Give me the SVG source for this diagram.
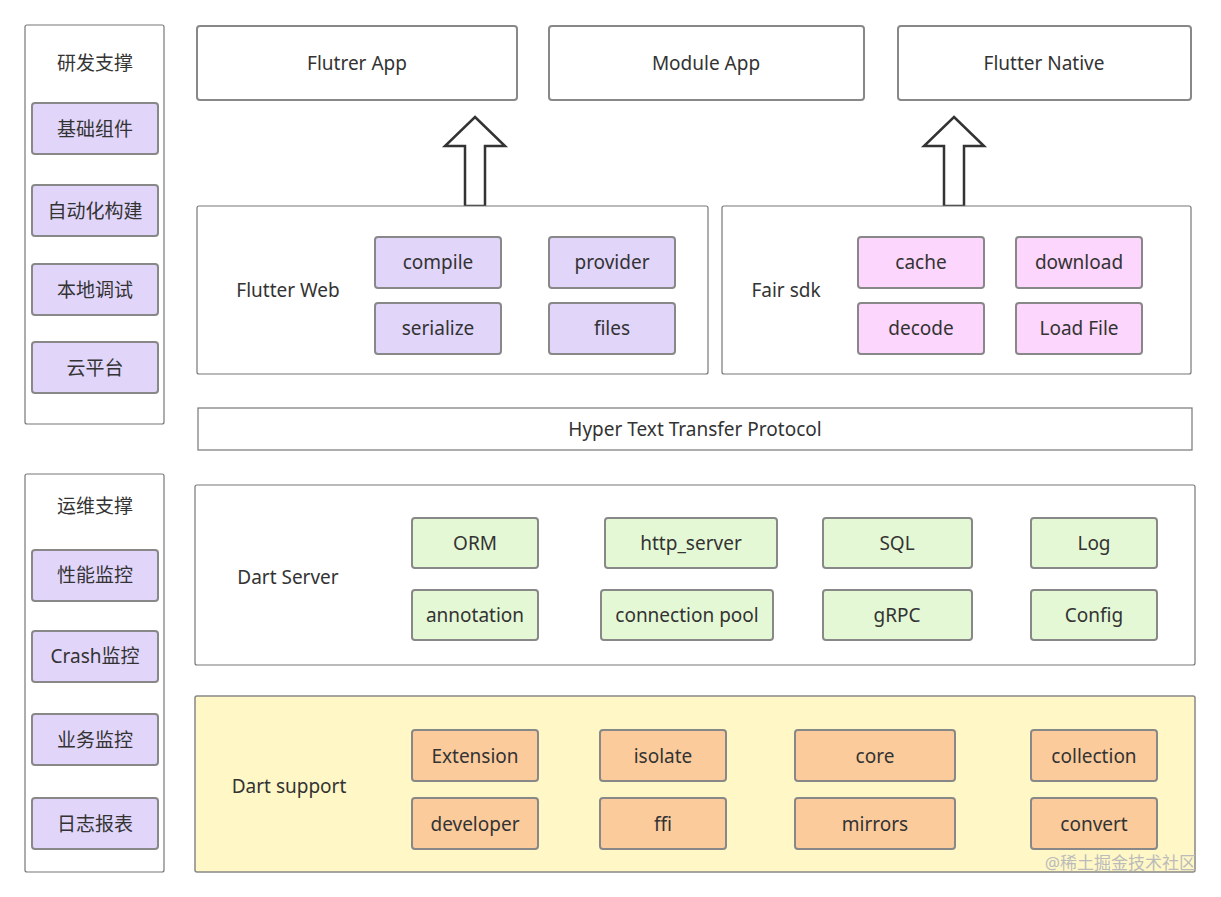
<svg xmlns="http://www.w3.org/2000/svg" width="1221" height="897" viewBox="0 0 1221 897">
<style>
text{font-family:"Noto Sans","Liberation Sans","Noto Sans CJK SC",sans-serif;font-size:19px;fill:#333;text-anchor:middle;dominant-baseline:central}
.frame{fill:#fff;stroke:#777;stroke-width:1.2}
.b{stroke:#888;stroke-width:2}
.p{fill:#e1d5fa}.k{fill:#fdd6fd}.g{fill:#e5f8d6}.o{fill:#fbcb9c}
.arr{fill:#fff;stroke:#333;stroke-width:2.5}
.l{text-anchor:start}
</style>
<rect width="1221" height="897" fill="#fff"/>
<g id="rd"><rect class="frame" x="25" y="25" width="139" height="399" rx="2"/><text x="95" y="63">研发支撑</text>
<rect class="b p" x="32" y="103" width="126" height="51" rx="3"/><text x="95" y="129">基础组件</text>
<rect class="b p" x="32" y="185" width="126" height="51" rx="3"/><text x="95" y="211">自动化构建</text>
<rect class="b p" x="32" y="264" width="126" height="51" rx="3"/><text x="95" y="290">本地调试</text>
<rect class="b p" x="32" y="342" width="126" height="51" rx="3"/><text x="95" y="368">云平台</text></g>
<g id="ops"><rect class="frame" x="25" y="474" width="139" height="398" rx="2"/><text x="95" y="506">运维支撑</text>
<rect class="b p" x="32" y="550" width="126" height="51" rx="3"/><text x="95" y="575">性能监控</text>
<rect class="b p" x="32" y="631" width="126" height="51" rx="3"/><text x="95" y="656">Crash监控</text>
<rect class="b p" x="32" y="714" width="126" height="51" rx="3"/><text x="95" y="740">业务监控</text>
<rect class="b p" x="32" y="798" width="126" height="51" rx="3"/><text x="95" y="824">日志报表</text></g>
<g id="apps">
<rect class="b" fill="#fff" x="197" y="26" width="320" height="74" rx="3"/><text x="357" y="63">Flutrer App</text>
<rect class="b" fill="#fff" x="549" y="26" width="315" height="74" rx="3"/><text x="706" y="63">Module App</text>
<rect class="b" fill="#fff" x="898" y="26" width="293" height="74" rx="3"/><text x="1044" y="63">Flutter Native</text></g>
<g id="connectors">
<path class="arr" d="M475 117 L505 146 L485 146 L485 206 L465 206 L465 146 L445 146 Z"/>
<path class="arr" d="M954 117 L984 146 L964 146 L964 206 L944 206 L944 146 L924 146 Z"/></g>
<g id="web"><rect class="frame" x="197" y="206" width="511" height="168" rx="2"/><text x="288" y="290">Flutter Web</text>
<rect class="b p" x="375" y="237" width="126" height="51" rx="3"/><text x="438" y="262">compile</text>
<rect class="b p" x="549" y="237" width="126" height="51" rx="3"/><text x="612" y="262">provider</text>
<rect class="b p" x="375" y="303" width="126" height="51" rx="3"/><text x="438" y="328">serialize</text>
<rect class="b p" x="549" y="303" width="126" height="51" rx="3"/><text x="612" y="328">files</text></g>
<g id="fair"><rect class="frame" x="722" y="206" width="469" height="168" rx="2"/><text x="786" y="290">Fair sdk</text>
<rect class="b k" x="858" y="237" width="126" height="51" rx="3"/><text x="921" y="262">cache</text>
<rect class="b k" x="1016" y="237" width="126" height="51" rx="3"/><text x="1079" y="262">download</text>
<rect class="b k" x="858" y="303" width="126" height="51" rx="3"/><text x="921" y="328">decode</text>
<rect class="b k" x="1016" y="303" width="126" height="51" rx="3"/><text x="1079" y="328">Load File</text></g>
<g id="http"><rect class="frame" x="198" y="408" width="994" height="42"/><text x="695" y="429">Hyper Text Transfer Protocol</text></g>
<g id="server"><rect class="frame" x="195" y="485" width="1000" height="180" rx="2"/><text x="288" y="577">Dart Server</text>
<rect class="b g" x="412" y="518" width="126" height="50" rx="3"/><text x="475" y="543">ORM</text>
<rect class="b g" x="605" y="518" width="172" height="50" rx="3"/><text x="691" y="543">http_server</text>
<rect class="b g" x="823" y="518" width="149" height="50" rx="3"/><text x="897" y="543">SQL</text>
<rect class="b g" x="1031" y="518" width="126" height="50" rx="3"/><text x="1094" y="543">Log</text>
<rect class="b g" x="412" y="590" width="126" height="50" rx="3"/><text x="475" y="615">annotation</text>
<rect class="b g" x="601" y="590" width="172" height="50" rx="3"/><text x="687" y="615">connection pool</text>
<rect class="b g" x="823" y="590" width="149" height="50" rx="3"/><text x="897" y="615">gRPC</text>
<rect class="b g" x="1031" y="590" width="126" height="50" rx="3"/><text x="1094" y="615">Config</text></g>
<g id="support"><rect x="195" y="696" width="1000" height="176" rx="2" fill="#fff8c6" stroke="#888" stroke-width="1.5"/><text x="289" y="786">Dart  support</text>
<rect class="b o" x="412" y="730" width="126" height="51" rx="3"/><text x="475" y="756">Extension</text>
<rect class="b o" x="600" y="730" width="126" height="51" rx="3"/><text x="663" y="756">isolate</text>
<rect class="b o" x="795" y="730" width="160" height="51" rx="3"/><text x="875" y="756">core</text>
<rect class="b o" x="1031" y="730" width="126" height="51" rx="3"/><text x="1094" y="756">collection</text>
<rect class="b o" x="412" y="798" width="126" height="51" rx="3"/><text x="475" y="824">developer</text>
<rect class="b o" x="600" y="798" width="126" height="51" rx="3"/><text x="663" y="824">ffi</text>
<rect class="b o" x="795" y="798" width="160" height="51" rx="3"/><text x="875" y="824">mirrors</text>
<rect class="b o" x="1031" y="798" width="126" height="51" rx="3"/><text x="1094" y="824">convert</text></g>
<text x="1196" y="862" style="text-anchor:end;font-size:17px;fill:#bbb">@稀土掘金技术社区</text>
</svg>
